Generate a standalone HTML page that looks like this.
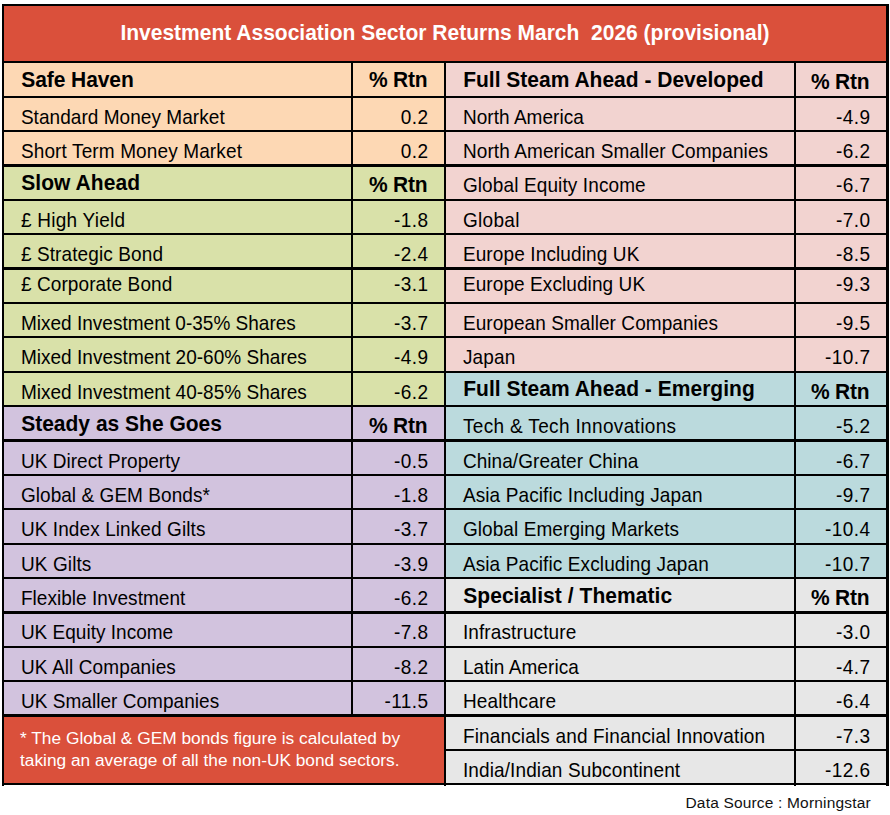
<!DOCTYPE html><html><head><meta charset="utf-8"><style>
html,body{margin:0;padding:0;background:#fff;width:890px;height:815px;overflow:hidden;position:relative}
div{position:absolute}
.t{font-family:"Liberation Sans",sans-serif;white-space:pre;color:#000;line-height:1}
.n{font-size:19px;transform:scaleY(1.056);transform-origin:0 16px}
.b{font-size:21px;font-weight:bold;transform:scaleY(1.03);transform-origin:0 18px}
.r{text-align:right}
.k{background:#000}
</style></head><body>
<div style="left:2px;top:4px;width:887px;height:59px;background:#DA503B"></div>
<div style="left:4px;top:63px;width:440px;height:103px;background:#FDD8B4"></div>
<div style="left:4px;top:166px;width:440px;height:241px;background:#D9E1A9"></div>
<div style="left:4px;top:407px;width:440px;height:309px;background:#D2C3DE"></div>
<div style="left:4px;top:716px;width:440px;height:68px;background:#DA503B"></div>
<div style="left:446px;top:63px;width:440px;height:310px;background:#F2D3D0"></div>
<div style="left:446px;top:373px;width:440px;height:206px;background:#BBDADD"></div>
<div style="left:446px;top:579px;width:440px;height:205px;background:#E7E7E7"></div>
<div class="t b" style="left:0;width:890px;text-align:center;color:#fff;top:22px">Investment Association Sector Returns March  2026 (provisional)</div>
<div class="t b" style="left:21.20px;top:69px;letter-spacing:-0.067px">Safe Haven</div>
<div class="t b r" style="right:462.50px;top:69px;letter-spacing:-0.2px">% Rtn</div>
<div class="t n" style="left:20.90px;top:108px;letter-spacing:0.050px">Standard Money Market</div>
<div class="t n r" style="right:461.60px;top:108px;letter-spacing:0.4px">0.2</div>
<div class="t n" style="left:20.90px;top:142px;letter-spacing:0.127px">Short Term Money Market</div>
<div class="t n r" style="right:461.60px;top:142px;letter-spacing:0.4px">0.2</div>
<div class="t b" style="left:21.20px;top:172px;letter-spacing:0.067px">Slow Ahead</div>
<div class="t b r" style="right:462.50px;top:174px;letter-spacing:-0.2px">% Rtn</div>
<div class="t n" style="left:20.90px;top:211px;letter-spacing:0.255px">£ High Yield</div>
<div class="t n r" style="right:461.60px;top:211px;letter-spacing:0.4px">-1.8</div>
<div class="t n" style="left:20.90px;top:245px;letter-spacing:0.107px">£ Strategic Bond</div>
<div class="t n r" style="right:461.60px;top:245px;letter-spacing:0.4px">-2.4</div>
<div class="t n" style="left:20.90px;top:275px;letter-spacing:0.093px">£ Corporate Bond</div>
<div class="t n r" style="right:461.60px;top:275px;letter-spacing:0.4px">-3.1</div>
<div class="t n" style="left:20.90px;top:314px;letter-spacing:0.014px">Mixed Investment 0-35% Shares</div>
<div class="t n r" style="right:461.60px;top:314px;letter-spacing:0.4px">-3.7</div>
<div class="t n" style="left:20.90px;top:348px;letter-spacing:0.028px">Mixed Investment 20-60% Shares</div>
<div class="t n r" style="right:461.60px;top:348px;letter-spacing:0.4px">-4.9</div>
<div class="t n" style="left:20.90px;top:383px;letter-spacing:0.028px">Mixed Investment 40-85% Shares</div>
<div class="t n r" style="right:461.60px;top:383px;letter-spacing:0.4px">-6.2</div>
<div class="t b" style="left:21.20px;top:413px">Steady as She Goes</div>
<div class="t b r" style="right:462.50px;top:415px;letter-spacing:-0.2px">% Rtn</div>
<div class="t n" style="left:20.90px;top:452px;letter-spacing:0.047px">UK Direct Property</div>
<div class="t n r" style="right:461.60px;top:452px;letter-spacing:0.4px">-0.5</div>
<div class="t n" style="left:20.90px;top:486px;letter-spacing:0.056px">Global &amp; GEM Bonds*</div>
<div class="t n r" style="right:461.60px;top:486px;letter-spacing:0.4px">-1.8</div>
<div class="t n" style="left:20.90px;top:520px;letter-spacing:0.090px">UK Index Linked Gilts</div>
<div class="t n r" style="right:461.60px;top:520px;letter-spacing:0.4px">-3.7</div>
<div class="t n" style="left:20.90px;top:555px;letter-spacing:0.114px">UK Gilts</div>
<div class="t n r" style="right:461.60px;top:555px;letter-spacing:0.4px">-3.9</div>
<div class="t n" style="left:20.90px;top:589px;letter-spacing:0.044px">Flexible Investment</div>
<div class="t n r" style="right:461.60px;top:589px;letter-spacing:0.4px">-6.2</div>
<div class="t n" style="left:20.90px;top:623px;letter-spacing:0.013px">UK Equity Income</div>
<div class="t n r" style="right:461.60px;top:623px;letter-spacing:0.4px">-7.8</div>
<div class="t n" style="left:20.90px;top:658px;letter-spacing:0.120px">UK All Companies</div>
<div class="t n r" style="right:461.60px;top:658px;letter-spacing:0.4px">-8.2</div>
<div class="t n" style="left:20.90px;top:692px;letter-spacing:0.042px">UK Smaller Companies</div>
<div class="t n r" style="right:461.60px;top:692px;letter-spacing:0.4px">-11.5</div>
<div class="t b" style="left:463.20px;top:69px">Full Steam Ahead - Developed</div>
<div class="t b r" style="right:20.50px;top:71px;letter-spacing:-0.2px">% Rtn</div>
<div class="t n" style="left:462.90px;top:108px;letter-spacing:0.050px">North America</div>
<div class="t n r" style="right:19.60px;top:108px;letter-spacing:0.4px">-4.9</div>
<div class="t n" style="left:462.90px;top:142px;letter-spacing:0.103px">North American Smaller Companies</div>
<div class="t n r" style="right:19.60px;top:142px;letter-spacing:0.4px">-6.2</div>
<div class="t n" style="left:462.90px;top:176px;letter-spacing:0.116px">Global Equity Income</div>
<div class="t n r" style="right:19.60px;top:176px;letter-spacing:0.4px">-6.7</div>
<div class="t n" style="left:462.90px;top:211px;letter-spacing:0.320px">Global</div>
<div class="t n r" style="right:19.60px;top:211px;letter-spacing:0.4px">-7.0</div>
<div class="t n" style="left:462.90px;top:245px;letter-spacing:0.122px">Europe Including UK</div>
<div class="t n r" style="right:19.60px;top:245px;letter-spacing:0.4px">-8.5</div>
<div class="t n" style="left:462.90px;top:275px;letter-spacing:0.089px">Europe Excluding UK</div>
<div class="t n r" style="right:19.60px;top:275px;letter-spacing:0.4px">-9.3</div>
<div class="t n" style="left:462.90px;top:314px;letter-spacing:0.064px">European Smaller Companies</div>
<div class="t n r" style="right:19.60px;top:314px;letter-spacing:0.4px">-9.5</div>
<div class="t n" style="left:462.90px;top:348px;letter-spacing:0.150px">Japan</div>
<div class="t n r" style="right:19.60px;top:348px;letter-spacing:0.4px">-10.7</div>
<div class="t b" style="left:463.20px;top:378px;letter-spacing:0.023px">Full Steam Ahead - Emerging</div>
<div class="t b r" style="right:20.50px;top:381px;letter-spacing:-0.2px">% Rtn</div>
<div class="t n" style="left:462.90px;top:417px;letter-spacing:0.345px">Tech &amp; Tech Innovations</div>
<div class="t n r" style="right:19.60px;top:417px;letter-spacing:0.4px">-5.2</div>
<div class="t n" style="left:462.90px;top:452px;letter-spacing:0.067px">China/Greater China</div>
<div class="t n r" style="right:19.60px;top:452px;letter-spacing:0.4px">-6.7</div>
<div class="t n" style="left:462.90px;top:486px;letter-spacing:0.111px">Asia Pacific Including Japan</div>
<div class="t n r" style="right:19.60px;top:486px;letter-spacing:0.4px">-9.7</div>
<div class="t n" style="left:462.90px;top:520px;letter-spacing:0.082px">Global Emerging Markets</div>
<div class="t n r" style="right:19.60px;top:520px;letter-spacing:0.4px">-10.4</div>
<div class="t n" style="left:462.90px;top:555px;letter-spacing:0.111px">Asia Pacific Excluding Japan</div>
<div class="t n r" style="right:19.60px;top:555px;letter-spacing:0.4px">-10.7</div>
<div class="t b" style="left:463.20px;top:585px;letter-spacing:0.060px">Specialist / Thematic</div>
<div class="t b r" style="right:20.50px;top:587px;letter-spacing:-0.2px">% Rtn</div>
<div class="t n" style="left:462.90px;top:623px;letter-spacing:0.108px">Infrastructure</div>
<div class="t n r" style="right:19.60px;top:623px;letter-spacing:0.4px">-3.0</div>
<div class="t n" style="left:462.90px;top:658px;letter-spacing:0.067px">Latin America</div>
<div class="t n r" style="right:19.60px;top:658px;letter-spacing:0.4px">-4.7</div>
<div class="t n" style="left:462.90px;top:692px;letter-spacing:0.133px">Healthcare</div>
<div class="t n r" style="right:19.60px;top:692px;letter-spacing:0.4px">-6.4</div>
<div class="t n" style="left:462.90px;top:727px;letter-spacing:0.159px">Financials and Financial Innovation</div>
<div class="t n r" style="right:19.60px;top:727px;letter-spacing:0.4px">-7.3</div>
<div class="t n" style="left:462.90px;top:761px;letter-spacing:0.117px">India/Indian Subcontinent</div>
<div class="t n r" style="right:19.60px;top:761px;letter-spacing:0.4px">-12.6</div>
<div class="t" style="font-size:17.3px;color:#fff;left:20px;top:730px;letter-spacing:0.021px">* The Global &amp; GEM bonds figure is calculated by</div>
<div class="t" style="font-size:17.3px;color:#fff;left:20px;top:752px;letter-spacing:0px">taking an average of all the non-UK bond sectors.</div>
<div class="t" style="font-size:15.5px;color:#111;left:685.5px;top:795px;letter-spacing:0.175px">Data Source : Morningstar</div>
<div class="k" style="left:2px;top:4px;width:887px;height:2px"></div>
<div class="k" style="left:2px;top:61px;width:887px;height:2px"></div>
<div class="k" style="left:2px;top:96px;width:887px;height:2px"></div>
<div class="k" style="left:2px;top:130px;width:887px;height:2px"></div>
<div class="k" style="left:2px;top:164px;width:887px;height:3px"></div>
<div class="k" style="left:2px;top:199px;width:887px;height:2px"></div>
<div class="k" style="left:2px;top:233px;width:887px;height:2px"></div>
<div class="k" style="left:2px;top:267px;width:887px;height:3px"></div>
<div class="k" style="left:2px;top:302px;width:887px;height:2px"></div>
<div class="k" style="left:2px;top:336px;width:887px;height:2px"></div>
<div class="k" style="left:2px;top:371px;width:887px;height:2px"></div>
<div class="k" style="left:2px;top:405px;width:887px;height:2px"></div>
<div class="k" style="left:2px;top:439px;width:887px;height:3px"></div>
<div class="k" style="left:2px;top:474px;width:887px;height:2px"></div>
<div class="k" style="left:2px;top:508px;width:887px;height:2px"></div>
<div class="k" style="left:2px;top:543px;width:887px;height:2px"></div>
<div class="k" style="left:2px;top:577px;width:887px;height:2px"></div>
<div class="k" style="left:2px;top:611px;width:887px;height:3px"></div>
<div class="k" style="left:2px;top:646px;width:887px;height:2px"></div>
<div class="k" style="left:2px;top:680px;width:887px;height:2px"></div>
<div class="k" style="left:2px;top:714px;width:887px;height:3px"></div>
<div class="k" style="left:444px;top:749px;width:445px;height:2px"></div>
<div class="k" style="left:2px;top:783px;width:887px;height:2px"></div>
<div class="k" style="left:2px;top:4px;width:2px;height:782px"></div>
<div class="k" style="left:351px;top:61px;width:2px;height:655px"></div>
<div class="k" style="left:444px;top:61px;width:2px;height:725px"></div>
<div class="k" style="left:794px;top:61px;width:2px;height:725px"></div>
<div class="k" style="left:886px;top:4px;width:3px;height:782px"></div>
</body></html>
